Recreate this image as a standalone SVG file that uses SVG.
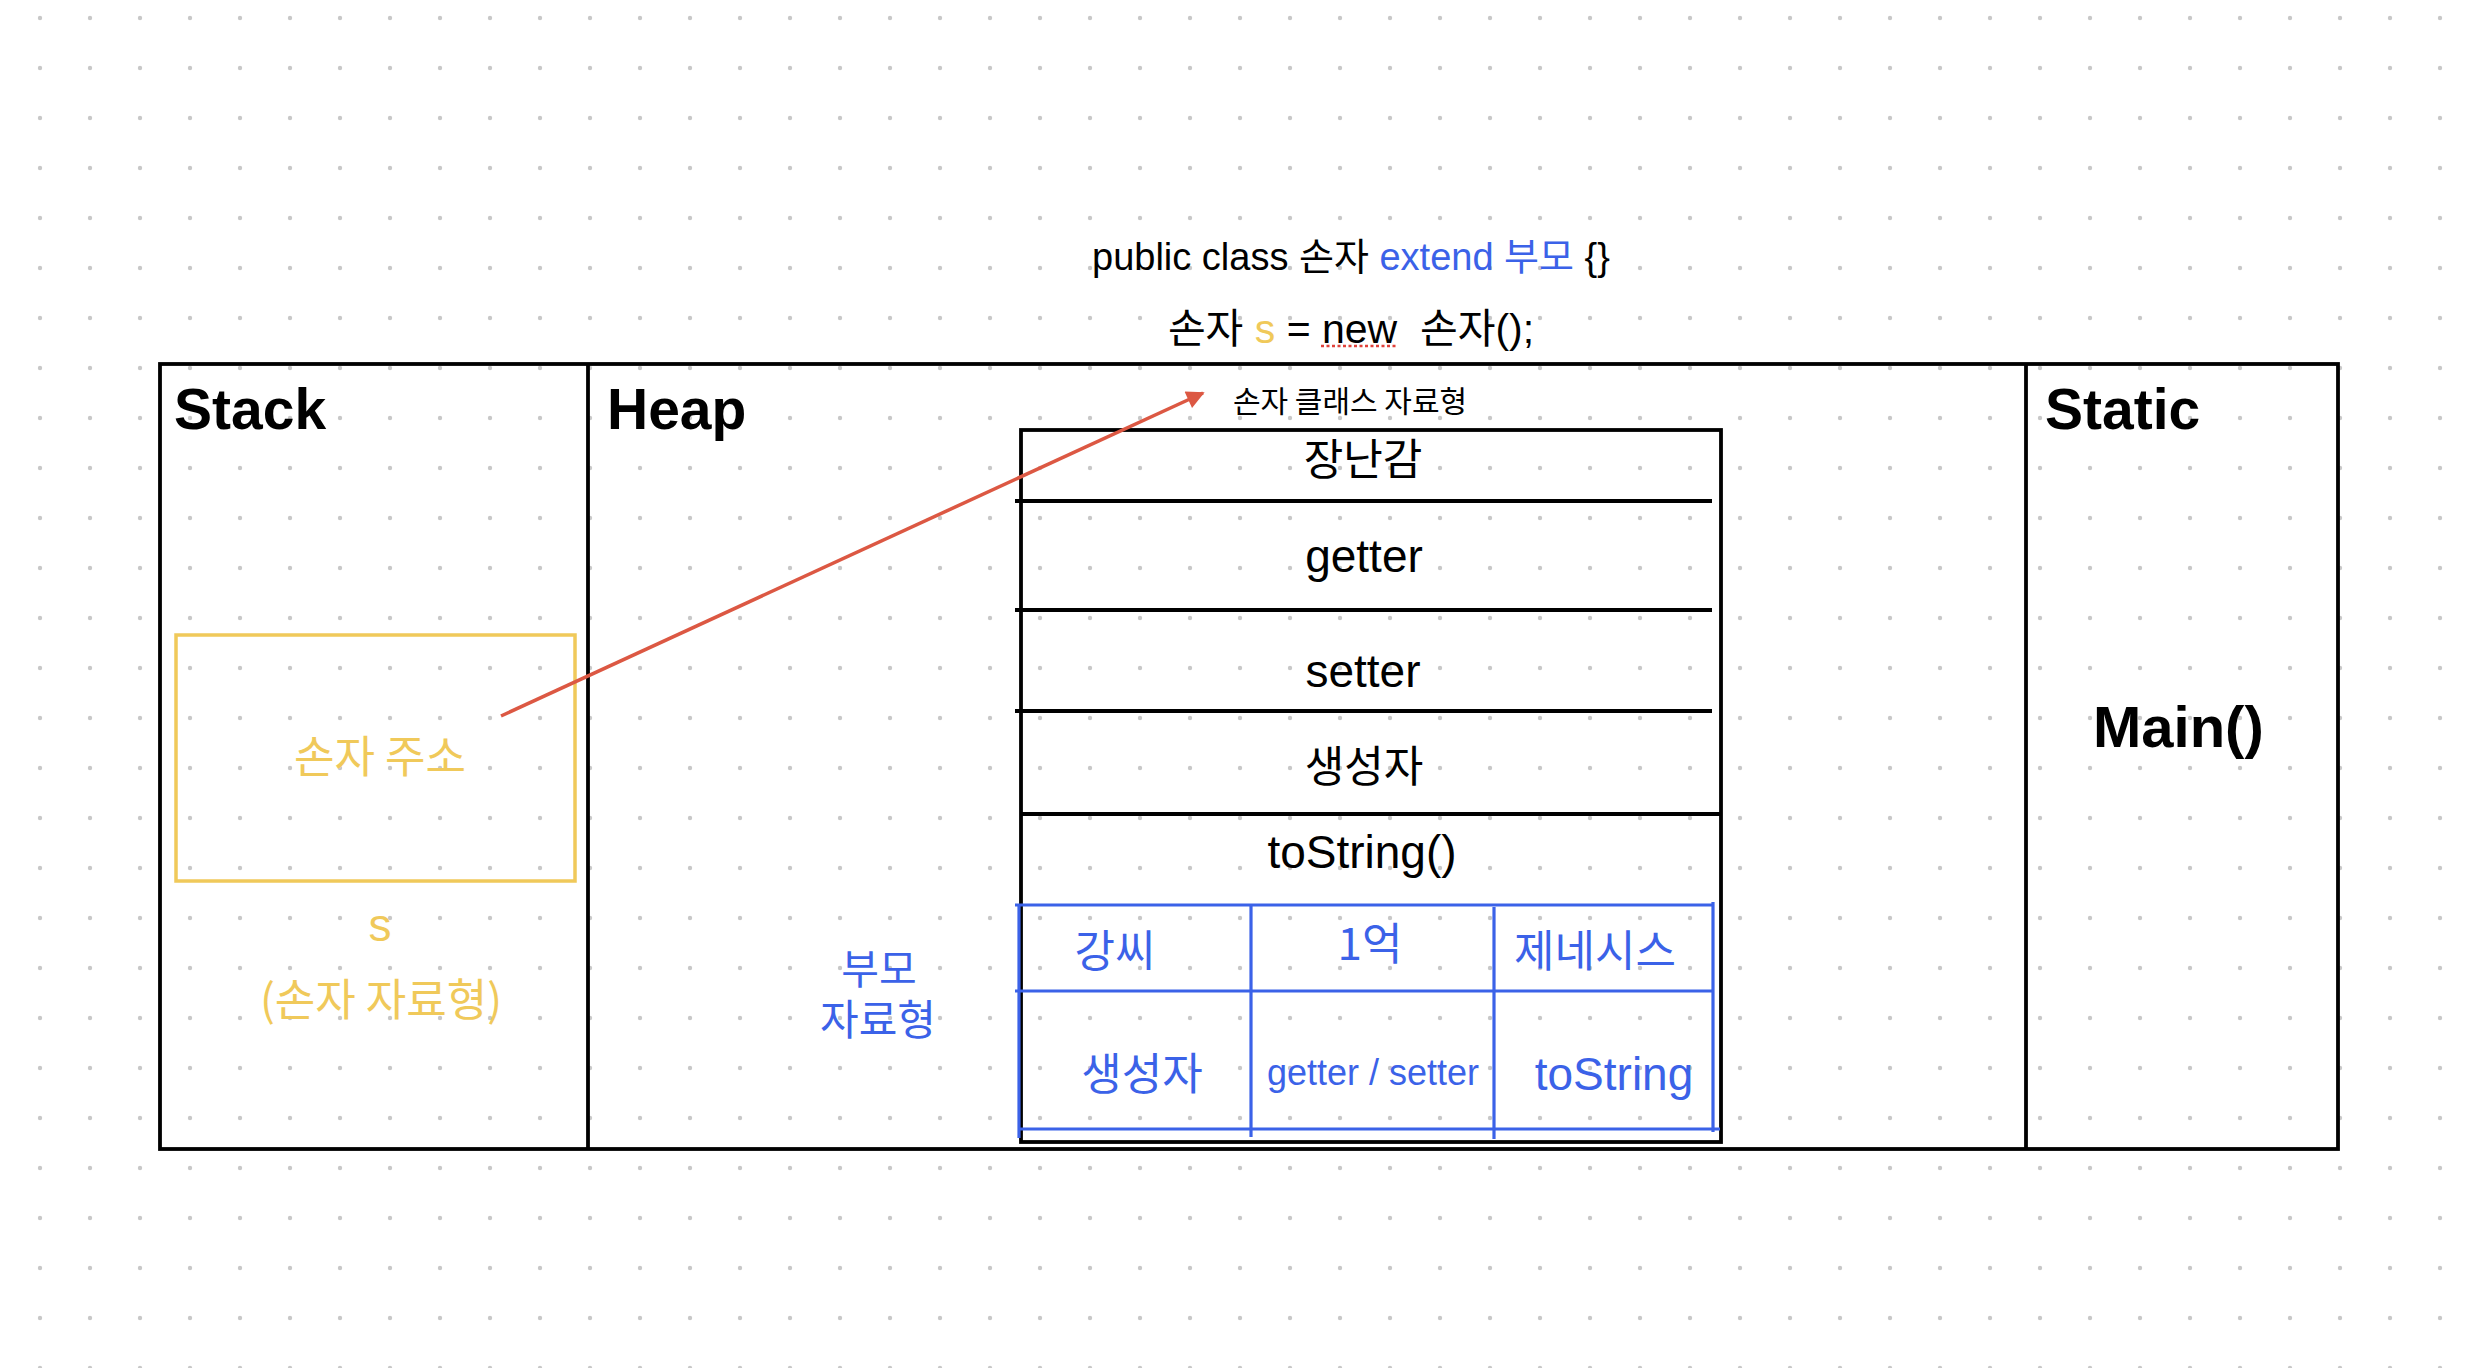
<svg xmlns="http://www.w3.org/2000/svg" width="2466" height="1368" viewBox="0 0 2466 1368">
<style>
.t{font-family:"Liberation Sans","Noto Sans CJK KR",sans-serif;}
.k{font-family:"Noto Sans CJK KR","Liberation Sans",sans-serif;}
.b{font-weight:bold;}
.blk{fill:#000;}
.yel{fill:#f0c95a;}
.blu{fill:#3b62e8;}
.frame{fill:none;stroke:#000;stroke-width:3.8;}
.bl{fill:none;stroke:#3b62e8;stroke-width:3.2;}
</style>
<defs>
<pattern id="dots" x="0" y="0" width="50" height="50" patternUnits="userSpaceOnUse">
<circle cx="40" cy="18" r="2.2" fill="#c8c8c8"/>
</pattern>
<marker id="arr" viewBox="0 0 10 10" refX="9" refY="5" markerWidth="22" markerHeight="18" markerUnits="userSpaceOnUse" orient="auto">
<path d="M0,0 L10,5 L0,10 z" fill="#dc5843"/>
</marker>
</defs>
<rect width="2466" height="1368" fill="#fff"/>
<rect width="2466" height="1368" fill="url(#dots)"/>

<g id="title">
<text class="t" x="1351" y="270" font-size="38" text-anchor="middle"><tspan class="blk">public class 손자 </tspan><tspan class="blu">extend 부모</tspan><tspan class="blk"> {}</tspan></text>
<text class="t" x="1351" y="343" font-size="41" text-anchor="middle" xml:space="preserve" style="white-space:pre"><tspan class="blk">손자 </tspan><tspan class="yel">s</tspan><tspan class="blk"> = new  손자();</tspan></text>
<line x1="1321" y1="346" x2="1397" y2="346" stroke="#e0413a" stroke-width="2.5" stroke-dasharray="3,2.5"/>
</g>

<g id="frame">
<rect class="frame" x="160" y="364" width="2178" height="785"/>
<line class="frame" x1="588" y1="364" x2="588" y2="1149"/>
<line class="frame" x1="2026" y1="364" x2="2026" y2="1149"/>
</g>

<g id="stack">
<text class="t b blk" x="174" y="429" font-size="57">Stack</text>
<rect x="176" y="635" width="399" height="246" fill="none" stroke="#f0c95a" stroke-width="3.5"/>
<text class="k yel" x="380" y="773" font-size="44" text-anchor="middle">손자 주소</text>
<text class="t yel" x="380" y="941" font-size="46" text-anchor="middle">s</text>
<text class="k yel" x="381" y="1016" font-size="44" text-anchor="middle">(손자 자료형)</text>
</g>

<g id="heap">
<text class="t b blk" x="607" y="429" font-size="57">Heap</text>
<text class="k blu" x="879" y="984" font-size="41" text-anchor="middle">부모</text>
<text class="k blu" x="878" y="1035" font-size="42" text-anchor="middle">자료형</text>
</g>

<g id="class-label">
<text class="k blk" x="1350" y="412" font-size="30" text-anchor="middle">손자 클래스 자료형</text>
</g>

<g id="object">
<rect class="frame" x="1021" y="430" width="700" height="712"/>
<line class="frame" x1="1015" y1="501" x2="1712" y2="501"/>
<line class="frame" x1="1015" y1="610" x2="1712" y2="610"/>
<line class="frame" x1="1015" y1="711" x2="1712" y2="711"/>
<line class="frame" x1="1021" y1="814" x2="1721" y2="814"/>
<text class="k blk" x="1363" y="475" font-size="43" text-anchor="middle">장난감</text>
<text class="t blk" x="1364" y="572" font-size="46" text-anchor="middle">getter</text>
<text class="t blk" x="1363" y="687" font-size="46" text-anchor="middle">setter</text>
<text class="k blk" x="1364" y="782" font-size="43" text-anchor="middle">생성자</text>
<text class="t blk" x="1362" y="868" font-size="46" text-anchor="middle">toString()</text>
</g>

<g id="parent">
<line class="bl" x1="1015" y1="905" x2="1713" y2="905"/>
<line class="bl" x1="1015" y1="991" x2="1713" y2="991"/>
<line class="bl" x1="1019" y1="1129" x2="1720" y2="1129"/>
<line class="bl" x1="1019" y1="905" x2="1019" y2="1138"/>
<line class="bl" x1="1251" y1="906" x2="1251" y2="1137"/>
<line class="bl" x1="1494" y1="907" x2="1494" y2="1139"/>
<line class="bl" x1="1713" y1="902" x2="1713" y2="1132"/>
<text class="k blu" x="1115" y="967" font-size="44" text-anchor="middle">강씨</text>
<text class="k blu" x="1370" y="960" font-size="44" text-anchor="middle">1억</text>
<text class="k blu" x="1595" y="967" font-size="44" text-anchor="middle">제네시스</text>
<text class="k blu" x="1142" y="1090" font-size="44" text-anchor="middle">생성자</text>
<text class="t blu" x="1373" y="1085" font-size="36" text-anchor="middle">getter / setter</text>
<text class="t blu" x="1614" y="1090" font-size="46" text-anchor="middle">toString</text>
</g>

<g id="static">
<text class="t b blk" x="2045" y="429" font-size="57">Static</text>
<text class="t b blk" x="2093" y="747" font-size="58">Main()</text>
</g>

<g id="connectors">
<line x1="501" y1="716" x2="1203" y2="393" stroke="#dc5843" stroke-width="3.5" marker-end="url(#arr)"/>
</g>
</svg>
